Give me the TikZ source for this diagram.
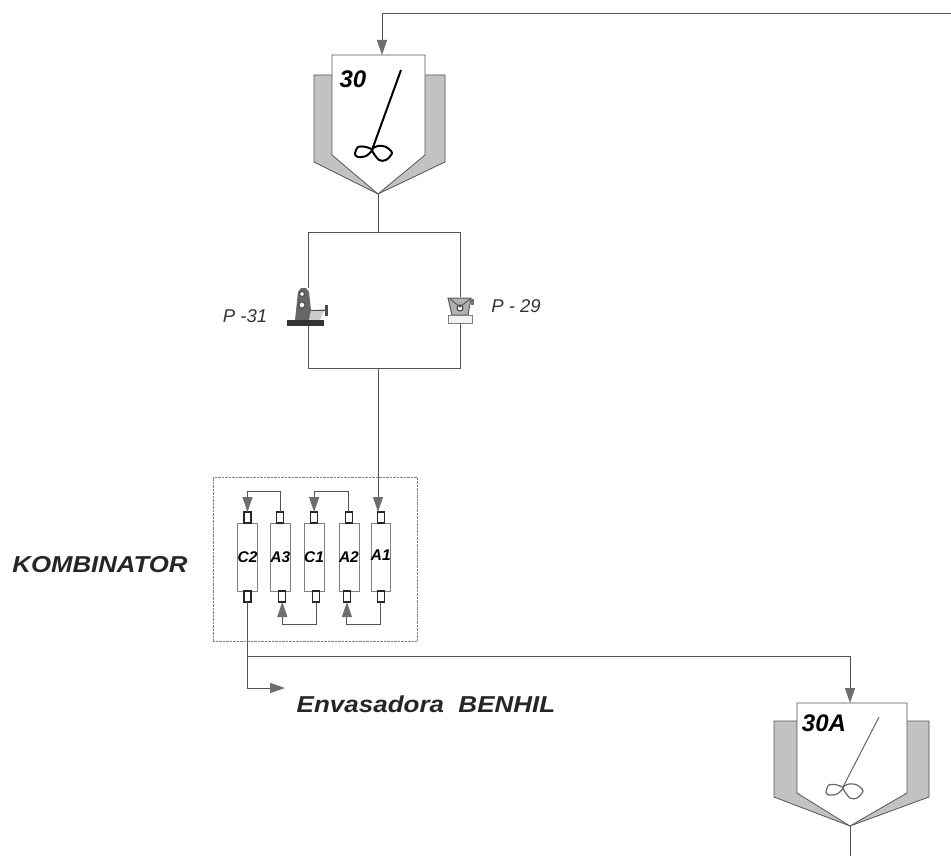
\documentclass[tikz,border=0pt]{standalone}
\usepackage{fontspec}
\setmainfont{Liberation Sans}
\usetikzlibrary{positioning,calc,arrows.meta}

\definecolor{linegray}{gray}{0.33}
\definecolor{jacketgray}{gray}{0.76}
\tikzset{
	pipe/.style={draw=linegray, line width=1pt},
	flow/.style={pipe, -{Triangle[length=15pt, width=10pt, color=linegray!85]}},
	jacket/.style={draw=linegray, line width=0.8pt, fill=jacketgray},
	vessel/.style={draw=linegray, line width=0.8pt, fill=white},
	column/.style={draw=black!50, line width=0.7pt, fill=white, minimum width=19pt, minimum height=68pt, inner sep=0pt, outer sep=0pt, font=\fontsize{15.5}{16}\selectfont\bfseries\itshape},
	nozzle/.style={draw=black!85, line width=1.2pt, fill=white, minimum width=7pt, minimum height=11pt, inner sep=0pt, outer sep=0pt},
	tag/.style={font=\fontsize{24}{26}\selectfont\bfseries\itshape, inner sep=0pt},
	pumptag/.style={font=\fontsize{18.5}{20}\selectfont\itshape, text=black!80, inner sep=0pt},
	pumpbox/.style={minimum width=24pt, inner sep=0pt},
	impeller/.pic={
		\draw plot[smooth cycle] coordinates {(0,0) (-6,-3) (-14,-3) (-17,4) (-14,7) (-6,6)};
		\draw plot[smooth cycle] coordinates {(0,0) (6,-4) (14,-3) (20,3) (14,10) (7,10)};
	}
}

\begin{document}
\begin{tikzpicture}[x=1pt, y=-1pt]
	\useasboundingbox (0,0) rectangle (951,856);

	% tank 30
	\draw[jacket] (314,75) -- (445,75) -- (445,162) -- (378,194) -- (314,162) -- cycle;
	\draw[vessel] (332,55) -- (425,55) -- (425,155) -- (378,194) -- (332,155) -- cycle;
	\draw[line width=2pt] (401,70) -- (372,150);
	\pic[line width=2pt] at (372,150) {impeller};
	\node[tag] (tagA) at (353,79) {30};
	\coordinate (inA) at (382,55);
	\coordinate (tipA) at (378,194);
	\coordinate (feed) at (951,14);
	\coordinate (feedbend) at (382,14);

	% tank 30A
	\draw[jacket] (774,721) -- (929,721) -- (929,797) -- (850,826) -- (774,797) -- cycle;
	\draw[vessel] (797,703) -- (907,703) -- (907,793) -- (850,826) -- (797,793) -- cycle;
	\draw[black!60, line width=1pt] (879,717) -- (843,787);
	\pic[black!60, line width=1.2pt] at (843,788) {impeller};
	\node[tag] (tagB) at (824,723) {30A};
	\coordinate (inB) at (850,703);
	\coordinate (tipB) at (850,826);
	\coordinate (outB) at (850,856);

	% pumps
	\node[pumpbox, minimum height=38pt] (P31) at (308,307) {};
	\node[pumpbox, minimum height=26pt] (P29) at (460,310) {};
	\fill[black!60] (295,320) -- (298,292) -- (301,288) -- (306,288) -- (309,292) -- (312,320) -- cycle;
	\fill[black!20] (309,320) -- (311,310) -- (325,309) -- (320,320) -- cycle;
	\draw[black!70, line width=1pt] (311,310) -- (325,310);
	\fill[black!70] (325,305) rectangle (328,316);
	\filldraw[fill=white, draw=black!70, line width=1pt] (302,294) circle (2.5pt) (302,305) circle (3pt);
	\fill[black!80] (287,320) rectangle (324,326);
	\filldraw[fill=black!30, draw=black!65, line width=1pt] (448,298) -- (471,298) -- (468,315) -- (452,315) -- cycle;
	\filldraw[fill=white, draw=black!80, line width=1pt] (460,308) circle (3pt);
	\draw[black!65, line width=1pt] (450,299) -- (460,307) -- (470,299);
	\fill[black!55] (471,299) rectangle (474,305);
	\filldraw[fill=black!5, draw=black!50, line width=1pt] (448,315) rectangle (472,323);
	\node[pumptag] (tag31) at (245,316) {P -31};
	\node[pumptag] (tag29) at (516,306) {P - 29};

	% manifold
	\coordinate (split) at (378,232);
	\coordinate (splitL) at (308,232);
	\coordinate (splitR) at (460,232);
	\coordinate (joinL) at (308,368);
	\coordinate (joinR) at (460,368);
	\coordinate (join) at (378,368);

	% kombinator
	\node[draw=black!50, densely dotted, minimum width=204pt, minimum height=164pt, inner sep=0pt] (frame) at (315,559) {};
	\node[column] (C2) at (247.5,557) {C2};
	\node[column, right=13pt of C2] (A3) {A3};
	\node[column, right=14pt of A3] (C1) {C1};
	\node[column, right=15pt of C1] (A2) {A2};
	\node[column, right=12pt of A2] (A1) {\raisebox{3pt}{A1}};
	\node[nozzle, above=0pt of C2] (C2t) {};
	\node[nozzle, above=0pt of A3] (A3t) {};
	\node[nozzle, above=0pt of C1] (C1t) {};
	\node[nozzle, above=0pt of A2] (A2t) {};
	\node[nozzle, above=0pt of A1] (A1t) {};
	\node[nozzle, below=0pt of C2] (C2b) {};
	\node[nozzle, below=0pt of A3, xshift=2pt] (A3b) {};
	\node[nozzle, below=0pt of C1, xshift=2pt] (C1b) {};
	\node[nozzle, below=0pt of A2, xshift=-2pt] (A2b) {};
	\node[nozzle, below=0pt of A1] (A1b) {};
	\node[font=\fontsize{23}{25}\selectfont\bfseries\itshape, text=black!85, inner sep=0pt, xscale=1.12] (komb) at (100,565) {KOMBINATOR};
	\node[font=\fontsize{23}{25}\selectfont\bfseries\itshape, text=black!85, inner sep=0pt, xscale=1.13] (benhil) at (426,704) {Envasadora\ \ BENHIL};
	\coordinate (branch) at (C2b |- 0,656);
	\coordinate (bendB) at (inB |- 0,656);
	\coordinate (bendE) at (C2b |- 0,688);
	\coordinate (outE) at (285,688);

	\draw[flow] (feed) -- (feedbend) -- (inA);
	\draw[pipe] (tipA) -- (split);
	\draw[pipe] (splitL) -- (splitR);
	\draw[pipe] (splitL) -- (P31.north);
	\draw[pipe] (splitR) -- (P29.north);
	\draw[pipe] (P31.south) -- (joinL) -- (joinR) -- (P29.south);
	\draw[flow] (join) -- (join |- A1t.north);
	\draw[flow] (A1b.south) -- ++(0,22) -| (A2b.south);
	\draw[flow] (A2t.north) -- ++(0,-21) -| (C1t.north);
	\draw[flow] (C1b.south) -- ++(0,22) -| (A3b.south);
	\draw[flow] (A3t.north) -- ++(0,-21) -| (C2t.north);
	\draw[pipe] (C2b.south) -- (branch);
	\draw[flow] (branch) -- (bendB) -- (inB);
	\draw[flow] (branch) -- (bendE) -- (outE);
	\draw[pipe] (tipB) -- (outB);
\end{tikzpicture}
\end{document}
